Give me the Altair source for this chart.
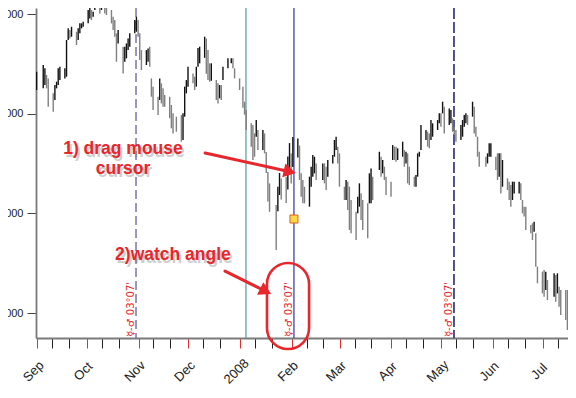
import altair as alt
import pandas as pd
import numpy as np

# ---- daily high / low values (one entry per trading day) ----
sep_hi = [3421, 3488, 3455, 3388, 3354, 3204, 3287, 3321, 3455, 3471, 3455, 3739, 3856, 3839, 3872, 3822, 3856, 3906, 3906, 3923]
sep_lo = [3237, 3254, 3287, 3254, 3070, 3020, 3137, 3254, 3287, 3337, 3354, 3371, 3739, 3755, 3772, 3689, 3739, 3806, 3856, 3872]
oct_hi = [4040, 4107, 4040, 4023, 4123, 4073, 4170, 4190, 4150, 4090, 4040, 3973, 3939, 3806, 3839, 3672, 3672, 3705, 3755, 3806, 3939, 3973, 3939]
oct_lo = [3906, 3956, 3939, 3973, 4040, 4006, 4040, 4090, 4006, 3990, 3906, 3839, 3772, 3521, 3705, 3404, 3521, 3555, 3638, 3672, 3806, 3822, 3772]
nov_hi = [3806, 3638, 3638, 3655, 3672, 3354, 3271, 3170, 3354, 3304, 3254, 3187, 3170, 3087, 3003, 2970, 2986, 3003, 3271, 3337, 3471]
nov_lo = [3538, 3438, 3488, 3521, 3471, 3170, 3036, 2986, 3137, 3103, 3070, 3070, 2953, 2853, 2802, 2819, 2719, 2736, 2970, 3204, 3271]
dec_hi = [3404, 3371, 3471, 3658, 3672, 3772, 3755, 3638, 3505, 3505, 3338, 3304, 3287, 3287, 3471, 3555, 3555, 3555, 3455, 3354]
dec_lo = [3304, 3237, 3271, 3470, 3505, 3560, 3400, 3337, 3320, 3330, 3137, 3103, 3154, 3137, 3337, 3455, 3505, 3455, 3354, 3237]
jan_hi = [3271, 3120, 3036, 2903, 2886, 2802, 2936, 2836, 2836, 2802, 2615, 2415, 2300, 2083, 2267, 2405, 2350, 2365, 2570, 2705, 2600]
jan_lo = [3060, 2990, 2836, 2669, 2535, 2568, 2769, 2635, 2635, 2602, 2405, 2120, 2015, 1632, 2020, 2184, 2140, 2104, 2240, 2405, 2300]
feb_hi = [2765, 2752, 2680, 2401, 2334, 2267, 2368, 2468, 2585, 2568, 2501, 2501, 2501, 2468, 2535, 2585, 2736, 2769, 2669, 2602]
feb_lo = [2465, 2560, 2334, 2167, 2100, 2100, 2067, 2267, 2368, 2401, 2334, 2334, 2301, 2234, 2368, 2501, 2568, 2635, 2501, 2267]
mar_hi = [2267, 2334, 2318, 2267, 2134, 2017, 2167, 2301, 2201, 2134, 2100, 2401, 2451, 2368, 2618, 2568, 2535, 2468, 2368, 2318]
mar_lo = [2134, 2134, 2033, 1833, 1799, 1732, 2000, 2067, 1933, 1833, 1749, 2100, 2100, 2134, 2435, 2368, 2401, 2334, 2184, 2167]
apr_hi = [2685, 2669, 2669, 2652, 2719, 2635, 2618, 2602, 2468, 2368, 2384, 2602, 2618, 2886, 2836, 2819, 2802, 2936, 2903, 2936, 3003, 3003]
apr_lo = [2535, 2535, 2518, 2535, 2568, 2468, 2501, 2301, 2284, 2267, 2267, 2368, 2568, 2635, 2736, 2669, 2652, 2736, 2769, 2836, 2903, 2869]
may_hi = [3120, 3070, 3053, 3036, 2953, 2869, 2836, 2886, 2936, 2986, 3003, 2986, 3120, 3070, 2869, 2769, 2618, 2568, 2602, 2702, 2702]
may_lo = [3003, 2802, 2886, 2903, 2819, 2786, 2719, 2736, 2769, 2869, 2903, 2886, 2970, 2802, 2769, 2568, 2468, 2468, 2501, 2568, 2568]
jun_hi = [2568, 2602, 2602, 2602, 2535, 2351, 2318, 2284, 2318, 2318, 2318, 2301, 2134, 2067, 2067, 1883, 1900, 1916, 1799, 1465, 1415]
jun_lo = [2434, 2334, 2368, 2200, 2267, 2234, 2134, 2067, 2134, 2200, 2200, 2134, 2000, 1967, 1833, 1799, 1732, 1816, 1465, 1298, 1197]
jul_hi = [1431, 1415, 1331, 1398, 1381, 1398, 1264, 1231, 1231, 1231, 1231]
jul_lo = [1164, 1231, 1130, 1164, 1114, 1197, 1063, 980, 930, 829, 963]

holidays = ["2007-09-03", "2007-11-22", "2007-12-25", "2008-01-01", "2008-01-21",
            "2008-02-18", "2008-03-21", "2008-05-26", "2008-07-04"]

# vertical marker lines
line_nov = ["2007-10-30T12:00:00Z"]
line_teal = ["2008-01-04T14:00:00Z"]
line_feb = ["2008-02-02T10:00:00Z"]
line_may = ["2008-05-08T14:00:00Z"]
angle_label = "\u263f-\u2642 03\u00b007'"
label_dates = line_nov + line_feb + line_may
label_base = [759, 759, 759]

# annotations
note1_dates = ["2007-10-22T16:00:00Z", "2007-10-22T16:00:00Z"]
note1_vals = [2650, 2440]
note1_text = ["1) drag mouse", "cursor"]
note2_dates = ["2007-11-21T17:00:00Z"]
note2_vals = [1582]
note2_text = ["2)watch angle"]
arrow_ids = ["a1", "a1", "a2", "a2"]
arrow_dates = ["2007-12-11T00:00:00Z", "2008-01-30T21:36:00Z", "2007-12-23T00:00:00Z", "2008-01-16T10:00:00Z"]
arrow_vals = [2605, 2418, 1421, 1218]
head_dates = ["2008-01-30T21:36:00Z", "2008-01-16T10:00:00Z"]
head_vals = [2418, 1218]
head_angles = [12.7, 26.6]
oval_x = ["2008-01-17T05:00:00Z"]
oval_x2 = ["2008-02-11T12:00:00Z"]
oval_y = [1502]
oval_y2 = [639]
marker_dates = ["2008-02-02T10:00:00Z"]
marker_vals = [1943]

y_ticks = [1000, 2000, 3000, 4000]

RED = "#e8262c"
FONT = "Liberation Sans"

# ---- tables ----
days = pd.bdate_range("2007-08-31", "2008-07-16")
days = days[~days.isin(pd.to_datetime(holidays))]
highs = sep_hi + oct_hi + nov_hi + dec_hi + jan_hi + feb_hi + mar_hi + apr_hi + may_hi + jun_hi + jul_hi
lows = sep_lo + oct_lo + nov_lo + dec_lo + jan_lo + feb_lo + mar_lo + apr_lo + may_lo + jun_lo + jul_lo
n = min(len(days), len(highs), len(lows))
bars = pd.DataFrame({
    "date": [d.strftime("%Y-%m-%dT18:00:00Z") for d in days[:n]],
    "high": highs[:n],
    "low": lows[:n],
})
mid = (bars["high"] + bars["low"]) / 2
bars["col"] = np.where(mid.diff().fillna(0) >= 0, "#111111", "#7f7f7f")

# axis tick values: 1st, 10th and 20th of each month
tick_vals = []
for y, m in [(2007, 9), (2007, 10), (2007, 11), (2007, 12), (2008, 1), (2008, 2),
             (2008, 3), (2008, 4), (2008, 5), (2008, 6), (2008, 7)]:
    for d in [1, 10, 20]:
        if (y, m) == (2008, 7) and d == 20:
            continue
        tick_vals.append(alt.DateTime(year=y, month=m, date=d, utc=True))

x_scale = alt.Scale(type="utc", domain=[
    alt.DateTime(year=2007, month=8, date=31, hours=9, minutes=34, utc=True),
    alt.DateTime(year=2008, month=7, date=16, hours=2, minutes=36, utc=True)])
y_scale = alt.Scale(domain=[749.2, 4060.2], zero=False, nice=False)

x_axis = alt.Axis(
    values=tick_vals,
    labelExpr="utcdate(datum.value) == 1 ? (utcmonth(datum.value) == 0 ? utcFormat(datum.value, '%Y') : utcFormat(datum.value, '%b')) : ''",
    tickColor={"condition": {"test": "utcdate(datum.value) == 1", "value": "#e03030"}, "value": "#222222"},
    tickSize=10, tickWidth=1,
    labelAngle=-45, labelAlign="center", labelBaseline="middle",
    labelPadding=23, labelOffset=-4, labelOverlap=False,
    labelFont=FONT, labelFontSize=13, labelColor="#222222",
    domainColor="#7a7a7a", domainWidth=1.8, grid=False)
y_axis = alt.Axis(
    values=y_ticks, format="d", tickSize=9, tickColor="#444444", labelPadding=4,
    labelFont=FONT, labelFontSize=11, labelColor="#222222",
    domainColor="#7a7a7a", domainWidth=1.8, grid=False)


def X(field):
    return alt.X(field, scale=x_scale, axis=x_axis, title=None)


def Y(field):
    return alt.Y(field, scale=y_scale, axis=y_axis, title=None)


def rule_layer(dates, color, width, dash=None):
    kw = dict(color=color, strokeWidth=width)
    if dash:
        kw["strokeDash"] = dash
    return alt.Chart(pd.DataFrame({"date": dates})).mark_rule(**kw).encode(x=X("date:T"))


l_nov = rule_layer(line_nov, "#7676ae", 1.5, [9, 4])
l_teal = rule_layer(line_teal, "#5aa3ab", 1.3)
l_feb = rule_layer(line_feb, "#22229a", 1.1)
l_may = rule_layer(line_may, "#1a1a72", 1.5, [11, 3])

bar_layer = alt.Chart(bars).mark_rule(strokeWidth=1.4, clip=True).encode(
    x=X("date:T"),
    y=Y("high:Q"),
    y2="low:Q",
    color=alt.Color("col:N", scale=None),
)

lbl = alt.Chart(pd.DataFrame({"date": label_dates, "v": label_base, "t": [angle_label] * 3})).mark_text(
    angle=270, align="left", baseline="bottom", fontSize=10, font="DejaVu Sans", color=RED
).encode(x=X("date:T"), y=Y("v:Q"), text="t:N")

marker = alt.Chart(pd.DataFrame({"date": marker_dates, "v": marker_vals})).mark_square(
    size=64, filled=True, fill="#ffd94a", stroke="#e0601a", strokeWidth=1, opacity=1
).encode(x=X("date:T"), y=Y("v:Q"))

arrows = alt.Chart(pd.DataFrame({"id": arrow_ids, "date": arrow_dates, "v": arrow_vals})).mark_line(
    color=RED, strokeWidth=3, strokeCap="round"
).encode(x=X("date:T"), y=Y("v:Q"), detail="id:N")

heads = alt.Chart(pd.DataFrame({"date": head_dates, "v": head_vals, "a": head_angles})).mark_point(
    shape="triangle-right", size=200, filled=True, color=RED, opacity=1
).encode(x=X("date:T"), y=Y("v:Q"), angle=alt.Angle("a:Q", scale=None))

oval = alt.Chart(pd.DataFrame({"x": oval_x, "x2": oval_x2, "y": oval_y, "y2": oval_y2})).mark_rect(
    filled=False, color=RED, strokeWidth=2.6, cornerRadius=21
).encode(x=X("x:T"), x2="x2:T", y=Y("y:Q"), y2="y2:Q")

notes = pd.DataFrame({"date": note1_dates + note2_dates, "v": note1_vals + note2_vals,
                      "t": note1_text + note2_text})
shadow = alt.Chart(notes).mark_text(
    fontSize=17.5, fontWeight="bold", font=FONT, color="#777777", opacity=0.35, dx=2, dy=3,
    align="center", baseline="middle"
).encode(x=X("date:T"), y=Y("v:Q"), text="t:N")
texts = alt.Chart(notes).mark_text(
    fontSize=17.5, fontWeight="bold", font=FONT, color=RED, align="center", baseline="middle"
).encode(x=X("date:T"), y=Y("v:Q"), text="t:N")

chart = alt.layer(
    l_nov, l_teal, l_feb, l_may, bar_layer, lbl, marker, arrows, heads, oval, shadow, texts
).properties(
    width=532, height=330,
    autosize=alt.AutoSizeParams(type="none"),
    padding={"left": 28, "top": 0, "right": 0, "bottom": 60},
).configure_view(stroke=None)

chart.save("out.html", embed_options={"renderer": "svg", "actions": False})
